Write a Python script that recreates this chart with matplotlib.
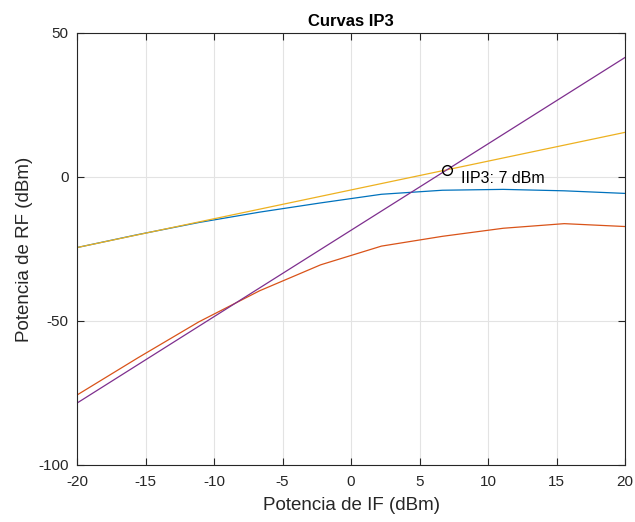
import matplotlib.pyplot as plt
import numpy as np

# IF input power points (dBm)
p_if = [-20.0, -15.56, -11.11, -6.67, -2.22, 2.22, 6.67, 11.11, 15.56, 20.0]

# measured output powers (dBm)
fund = [-24.5, -20.0, -15.8, -12.2, -9.0, -6.0, -4.6, -4.3, -4.8, -5.7]
im3 = [-75.7, -62.8, -50.3, -39.5, -30.5, -24.0, -20.6, -17.8, -16.2, -17.2]

# extrapolated lines (slope 1 and slope 3)
fund_ext = [-24.5, 15.5]
im3_ext = [-78.5, 41.5]
ext_x = [-20.0, 20.0]

iip3_x = 7.0
iip3_y = 2.5

plt.rcParams["font.family"] = ["Liberation Sans", "DejaVu Sans"]
plt.rcParams["axes.unicode_minus"] = False

fig = plt.figure(figsize=(6.35, 5.22), dpi=100)
ax = fig.add_axes([0.1213, 0.1092, 0.8630, 0.8276])

lw = 0.9
ax.plot(p_if, fund, color="#0072BD", lw=lw)
ax.plot(p_if, im3, color="#D95319", lw=lw)
ax.plot(ext_x, fund_ext, color="#EDB120", lw=lw)
ax.plot(ext_x, im3_ext, color="#7E2F8E", lw=lw)
ax.plot(iip3_x, iip3_y, "o", mfc="none", mec="black", ms=7, mew=1.0)
ax.text(iip3_x + 1, iip3_y - 3, f"IIP3: {iip3_x:.0f} dBm", fontsize=11.5,
        va="center", ha="left", color="black")

ax.set_xlim(-20, 20)
ax.set_ylim(-100, 50)
ax.set_xticks(np.arange(-20, 21, 5))
ax.set_yticks([-100, -50, 0, 50])
ax.grid(True, color="#e3e3e3", lw=0.8)
ax.set_axisbelow(True)
ax.tick_params(direction="in", top=True, right=True, labelsize=11,
               colors="#262626", length=5, width=0.8)
ax.tick_params(axis="x", pad=7)
ax.tick_params(axis="y", pad=6)
for s in ax.spines.values():
    s.set_color("#262626")
    s.set_linewidth(0.8)

ax.set_xlabel("Potencia de IF (dBm)", fontsize=13.5, color="#262626", labelpad=6)
ax.set_ylabel("Potencia de RF (dBm)", fontsize=13.5, color="#262626", labelpad=4)
ax.set_title("Curvas IP3", fontsize=12, fontweight="bold", pad=5)

fig.savefig("out.png", dpi=100)
